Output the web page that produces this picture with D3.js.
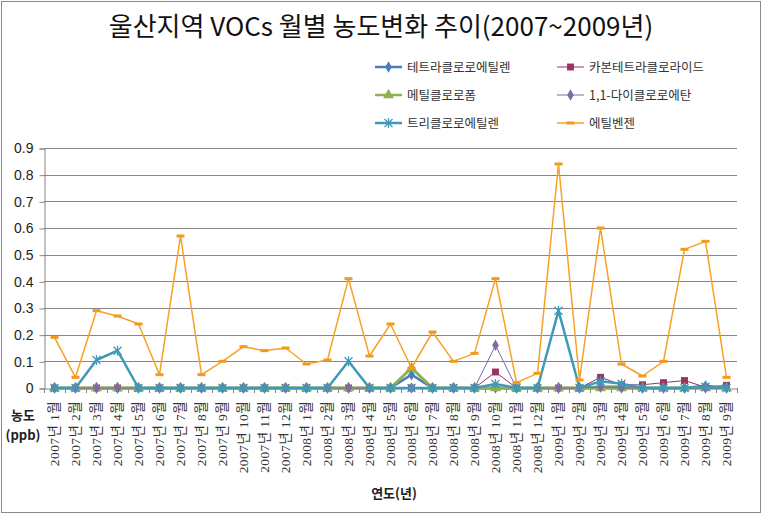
<!DOCTYPE html>
<html><head><meta charset="utf-8">
<script src="https://cdn.jsdelivr.net/npm/d3@7"></script>
<style>body{margin:0;background:#fff}svg{display:block}</style>
</head><body>
<script>
const categories = [
"2007년 1월","2007년 2월","2007년 3월","2007년 4월","2007년 5월","2007년 6월","2007년 7월","2007년 8월","2007년 9월","2007년 10월","2007년 11월","2007년 12월",
"2008년 1월","2008년 2월","2008년 3월","2008년 4월","2008년 5월","2008년 6월","2008년 7월","2008년 8월","2008년 9월","2008년 10월","2008년 11월","2008년 12월",
"2009년 1월","2009년 2월","2009년 3월","2009년 4월","2009년 5월","2009년 6월","2009년 7월","2009년 8월","2009년 9월"];
const tetrachloroethylene = [0,0,0,0,0,0,0,0,0,0,0,0, 0,0,0,0,0,0.05,0,0,0,0,0,0, 0,0,0.005,0.005,0,0,0,0.008,0];
const carbonTetrachloride = [0,0,0,0,0,0,0,0,0,0,0,0, 0,0,0,0,0,0,0,0,0,0.06,0,0, 0,0,0.04,0.012,0.012,0.02,0.028,0.003,0.01];
const chloroform = [0,0,0,0,0,0,0,0,0,0,0,0, 0,0,0,0,0,0.075,0,0,0,0,0,0, 0,0,0,0,0,0,0,0,0];
const dichloroethane = [0,0,0,0,0,0,0,0,0,0,0,0, 0,0,0,0,0,0,0,0,0,0.16,0,0, 0,0,0.004,0,0,0,0,0,0];
const trichloroethylene = [0,0,0.105,0.14,0,0,0,0,0,0,0,0, 0,0,0.10,0,0,0,0,0,0,0.015,0,0, 0.29,0,0.025,0.016,0,0,0,0.005,0];
const ethylbenzene = [0.19,0.04,0.29,0.27,0.24,0.05,0.57,0.05,0.10,0.155,0.14,0.15, 0.09,0.105,0.41,0.12,0.24,0.075,0.21,0.10,0.13,0.41,0.02,0.055, 0.84,0.03,0.60,0.09,0.045,0.10,0.52,0.55,0.04];
const yTicks = [0,0.1,0.2,0.3,0.4,0.5,0.6,0.7,0.8,0.9];
const seriesNames = ["테트라클로로에틸렌","카본테트라클로라이드","메틸클로로폼","1,1-다이클로로에탄","트리클로로에틸렌","에틸벤젠"];

const series = [
  {name:seriesNames[0], values:tetrachloroethylene, color:"#4A7EBB", width:2.5, marker:"diamond", mcolor:"#4A7EBB"},
  {name:seriesNames[1], values:carbonTetrachloride, color:"#993366", width:1, marker:"square", mcolor:"#993366"},
  {name:seriesNames[2], values:chloroform, color:"#8FB04E", width:3, marker:"triangle", mcolor:"#8FB04E"},
  {name:seriesNames[3], values:dichloroethane, color:"#7F68A8", width:1, marker:"diamond", mcolor:"#7F68A8"},
  {name:seriesNames[4], values:trichloroethylene, color:"#3E9AB8", width:2.5, marker:"asterisk", mcolor:"#3E9AB8"},
  {name:seriesNames[5], values:ethylbenzene, color:"#F7A126", width:1.5, marker:"dash", mcolor:"#F39A1A"}
];

const W=763,H=515;
const svg=d3.select("body").append("svg").attr("width",W).attr("height",H);
const KFONT="'Noto Sans CJK KR','Noto Sans',sans-serif";
const SFONT="'Liberation Serif','Noto Sans CJK KR',serif";

svg.append("rect").attr("x",1.5).attr("y",1.5).attr("width",759).attr("height",511)
  .attr("fill","#fff").attr("stroke","#8a8a8a").attr("stroke-width",1);

svg.append("text").attr("x",381).attr("y",36).attr("text-anchor","middle")
  .attr("font-family",KFONT).attr("font-size",26).attr("fill","#111")
  .text("울산지역 VOCs 월별 농도변화 추이(2007~2009년)");

const x=d3.scaleBand().domain(categories).range([44,737]);
const y=d3.scaleLinear().domain([0,0.9]).range([388,148]);
const cx=d=>x(d)+x.bandwidth()/2;

// gridlines
svg.append("g").selectAll("line").data(yTicks.slice(1)).join("line")
  .attr("x1",44).attr("x2",737).attr("y1",d=>Math.round(y(d))+0.5).attr("y2",d=>Math.round(y(d))+0.5)
  .attr("stroke","#868686").attr("stroke-width",1);

// y axis
const yAxis=svg.append("g").attr("transform","translate(44.5,0.5)")
  .call(d3.axisLeft(y).tickValues(yTicks).tickFormat(d=>d===0?"0":d3.format(".1f")(d)).tickSize(5).tickPadding(6));
yAxis.select(".domain").attr("stroke","#868686");
yAxis.selectAll(".tick line").attr("stroke","#868686");
yAxis.selectAll("text").attr("font-family","'Liberation Sans',sans-serif").attr("font-size",14).attr("fill","#222");

// x axis
const xAxis=svg.append("g").attr("transform","translate(0,388.5)")
  .call(d3.axisBottom(x).tickSize(0).tickPadding(0));
xAxis.select(".domain").attr("stroke","#868686");
xAxis.selectAll(".tick text").remove();
svg.append("g").selectAll("line").data(categories.concat(["__end"])).join("line")
  .attr("x1",(d,i)=>Math.round(44+i*x.step())+0.5).attr("x2",(d,i)=>Math.round(44+i*x.step())+0.5)
  .attr("y1",388).attr("y2",393).attr("stroke","#868686");
svg.append("g").selectAll("text").data(categories).join("text")
  .attr("transform",d=>`translate(${cx(d)+4.5},401) rotate(-90)`)
  .attr("text-anchor","end").attr("font-family",SFONT).attr("font-size",13.5).attr("letter-spacing",0.4).attr("fill","#333")
  .text(d=>d);

// axis titles
svg.append("text").attr("x",23).attr("y",420).attr("text-anchor","middle").attr("font-family",KFONT)
  .attr("font-size",13).attr("font-weight","bold").attr("fill","#222").text("농도");
svg.append("text").attr("x",23).attr("y",440).attr("text-anchor","middle").attr("font-family",KFONT)
  .attr("font-size",13).attr("font-weight","bold").attr("fill","#222").text("(ppb)");
svg.append("text").attr("x",394).attr("y",498).attr("text-anchor","middle").attr("font-family",KFONT)
  .attr("font-size",13).attr("font-weight","bold").attr("fill","#222").text("연도(년)");

function drawMarker(g,type,color){
  if(type==="diamond") g.append("path").attr("d",d3.symbol(d3.symbolDiamond,38)()).attr("fill",color);
  else if(type==="square") g.append("path").attr("d",d3.symbol(d3.symbolSquare,48)()).attr("fill",color);
  else if(type==="triangle") g.append("path").attr("d",d3.symbol(d3.symbolTriangle,52)()).attr("fill",color);
  else if(type==="asterisk") g.append("path").attr("d","M-4,-4L4,4M-4,4L4,-4M0,-5L0,5").attr("stroke",color).attr("stroke-width",1.3).attr("fill","none");
  else if(type==="dash") g.append("rect").attr("x",-4).attr("y",-1.5).attr("width",8).attr("height",3).attr("fill",color);
}

const line=d3.line().x((d,i)=>cx(categories[i])).y(d=>y(d));
series.forEach(s=>{
  const g=svg.append("g");
  g.append("path").datum(s.values).attr("d",line).attr("fill","none")
    .attr("stroke",s.color).attr("stroke-width",s.width).attr("stroke-linejoin","round");
  s.values.forEach((v,i)=>{
    const m=g.append("g").attr("transform",`translate(${cx(categories[i])},${y(v)})`);
    drawMarker(m,s.marker,s.mcolor);
  });
});

// legend
const legPos=[[375,67],[557,67],[375,95],[557,95],[375,123],[557,123]];
series.forEach((s,i)=>{
  const [lx,ly]=legPos[i];
  const g=svg.append("g").attr("transform",`translate(${lx},${ly})`);
  g.append("line").attr("x1",0).attr("x2",27).attr("y1",0).attr("y2",0).attr("stroke",s.color).attr("stroke-width",Math.min(s.width,2.5));
  const m=g.append("g").attr("transform","translate(13.5,0)");
  drawMarker(m,s.marker,s.mcolor);
  g.append("text").attr("x",32).attr("y",4.5).attr("font-family",KFONT).attr("font-size",12.5)
    .attr("fill","#333").text(s.name);
});
</script>
</body></html>
